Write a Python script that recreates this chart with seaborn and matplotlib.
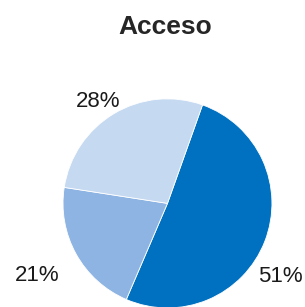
import matplotlib
matplotlib.use("Agg")
import matplotlib.pyplot as plt
import seaborn as sns

# pie data
categories = ["A", "B", "C"]
shares = [51, 21, 28]
pct_labels = ["51%", "21%", "28%"]
colors = ["#0070C0", "#8DB4E2", "#C5D9F1"]

sns.set_style("white")
plt.rcParams['font.family'] = ['Liberation Sans', 'DejaVu Sans']

fig = plt.figure(figsize=(3.05, 3.07), dpi=100)
ax = fig.add_axes([0.2066, -0.003, 0.685, 0.681])

wedges, _ = ax.pie(shares, colors=colors, startangle=70.4, counterclock=False,
                   wedgeprops=dict(edgecolor="white", linewidth=0.6))
ax.set_xlim(-1, 1)
ax.set_ylim(-1, 1)
ax.set_aspect("auto")
ax.axis("off")

# label spots, picked by eye (pie radius = 1)
label_pos = [(1.08, -0.70), (-1.245, -0.69), (-0.665, 0.97)]
for (x, y), txt in zip(label_pos, pct_labels):
    ax.text(x, y, txt, ha="center", va="center", fontsize=16, color="#1a1a1a", clip_on=False)

fig.text(0.543, 0.889, "Acceso", ha="center", va="baseline", fontsize=19, fontweight="bold")

fig.savefig("out.png", dpi=100)
